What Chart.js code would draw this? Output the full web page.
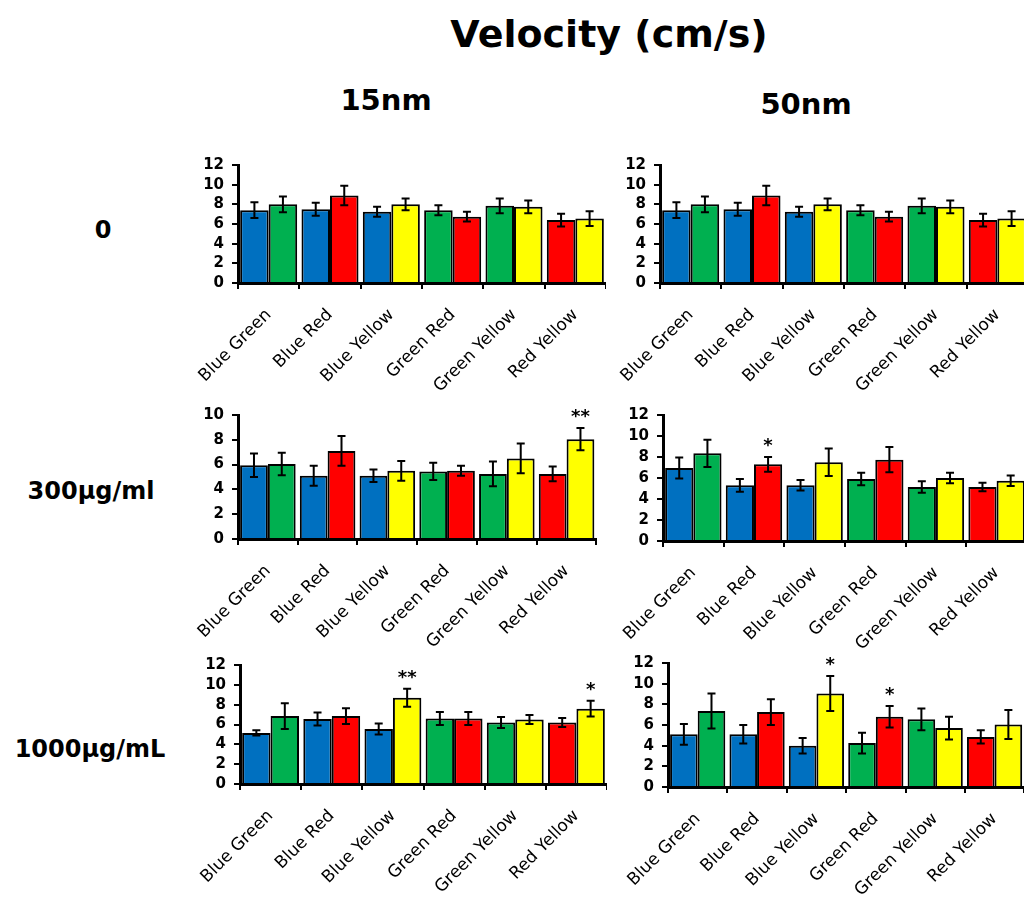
<!DOCTYPE html>
<html>
<head>
<meta charset="utf-8">
<title>Velocity (cm/s)</title>
<script src="https://cdn.jsdelivr.net/npm/chart.js@4/dist/chart.umd.min.js"></script>
<style>
  html, body { margin: 0; padding: 0; background: #fff; overflow: hidden; }
  body { width: 1024px; height: 901px; position: relative; font-family: 'DejaVu Sans', sans-serif; }
  .lbl { position: absolute; transform: translate(-50%, -50%); font-weight: bold; color: #000; white-space: nowrap; }
  canvas { position: absolute; }
</style>
</head>
<body>
<div class="lbl" style="left:609px;top:34px;font-size:38px;">Velocity (cm/s)</div>
<div class="lbl" style="left:386px;top:100px;font-size:29px;">15nm</div>
<div class="lbl" style="left:806px;top:104px;font-size:29px;">50nm</div>
<div class="lbl" style="left:103px;top:230px;font-size:24px;">0</div>
<div class="lbl" style="left:91px;top:491px;font-size:24px;">300μg/ml</div>
<div class="lbl" style="left:90px;top:749px;font-size:24px;">1000μg/mL</div>

<canvas id="c15_0"></canvas>
<canvas id="c50_0"></canvas>
<canvas id="c15_300"></canvas>
<canvas id="c50_300"></canvas>
<canvas id="c15_1000"></canvas>
<canvas id="c50_1000"></canvas>

<script>
const BLUE = '#0070C0', GREEN = '#00B050', RED = '#FF0000', YELLOW = '#FFFF00';

const categories = ['Blue Green', 'Blue Red', 'Blue Yellow', 'Green Red', 'Green Yellow', 'Red Yellow'];
const firstColors = [BLUE, BLUE, BLUE, GREEN, GREEN, RED];
const secondColors = [GREEN, RED, YELLOW, RED, YELLOW, YELLOW];
const yTickStep = 2;

// 15nm, 0
const nm15_0_first = [7.4, 7.5, 7.25, 7.4, 7.85, 6.4];
const nm15_0_second = [8.0, 8.9, 8.0, 6.75, 7.75, 6.55];
const nm15_0_errFirst = [0.8, 0.65, 0.5, 0.5, 0.75, 0.65];
const nm15_0_errSecond = [0.8, 1.0, 0.6, 0.5, 0.65, 0.75];
const nm15_0_stars = ['', '', '', '', '', ''];

// 50nm, 0
const nm50_0_first = [7.4, 7.5, 7.25, 7.4, 7.85, 6.4];
const nm50_0_second = [8.0, 8.9, 8.0, 6.75, 7.75, 6.55];
const nm50_0_errFirst = [0.8, 0.65, 0.5, 0.5, 0.75, 0.65];
const nm50_0_errSecond = [0.8, 1.0, 0.6, 0.5, 0.65, 0.75];
const nm50_0_stars = ['', '', '', '', '', ''];

// 15nm, 300ug/ml
const nm15_300_first = [5.95, 5.1, 5.1, 5.45, 5.25, 5.25];
const nm15_300_second = [6.05, 7.1, 5.5, 5.5, 6.5, 8.05];
const nm15_300_errFirst = [0.95, 0.8, 0.5, 0.7, 1.0, 0.6];
const nm15_300_errSecond = [0.9, 1.2, 0.8, 0.4, 1.2, 0.9];
const nm15_300_stars = ['', '', '', '', '', '**'];

// 50nm, 300ug/ml
const nm50_300_first = [6.95, 5.3, 5.3, 5.9, 5.15, 5.15];
const nm50_300_second = [8.35, 7.3, 7.5, 7.75, 6.0, 5.75];
const nm50_300_errFirst = [1.0, 0.6, 0.5, 0.6, 0.55, 0.4];
const nm50_300_errSecond = [1.3, 0.7, 1.3, 1.2, 0.5, 0.5];
const nm50_300_stars = ['', '*', '', '', '', ''];

// 15nm, 1000ug/mL
const nm15_1000_first = [5.15, 6.55, 5.55, 6.6, 6.2, 6.2];
const nm15_1000_second = [6.85, 6.85, 8.7, 6.6, 6.5, 7.6];
const nm15_1000_errFirst = [0.27, 0.65, 0.55, 0.65, 0.55, 0.45];
const nm15_1000_errSecond = [1.3, 0.8, 0.9, 0.65, 0.45, 0.8];
const nm15_1000_stars = ['', '', '**', '', '', '*'];

// 50nm, 1000ug/mL
const nm50_1000_first = [5.1, 5.1, 4.0, 4.25, 6.55, 4.85];
const nm50_1000_second = [7.35, 7.25, 9.05, 6.8, 5.7, 6.05];
const nm50_1000_errFirst = [1.0, 0.9, 0.75, 1.0, 1.05, 0.65];
const nm50_1000_errSecond = [1.7, 1.25, 1.7, 1.05, 1.1, 1.4];
const nm50_1000_stars = ['', '', '*', '*', '', ''];

// error bars + significance stars
const errorBars = {
  id: 'errorBars',
  afterDatasetsDraw(chart) {
    const ctx = chart.ctx;
    const y = chart.scales.y;
    ctx.save();
    ctx.strokeStyle = '#000';
    ctx.fillStyle = '#000';
    ctx.lineWidth = 2;
    chart.data.datasets.forEach((ds, i) => {
      const meta = chart.getDatasetMeta(i);
      meta.data.forEach((bar, j) => {
        const v = ds.data[j], e = ds.errors[j];
        const top = y.getPixelForValue(v + e);
        const bot = y.getPixelForValue(v - e);
        ctx.beginPath();
        ctx.moveTo(bar.x, top); ctx.lineTo(bar.x, bot);
        ctx.moveTo(bar.x - 4, top); ctx.lineTo(bar.x + 4, top);
        ctx.moveTo(bar.x - 4, bot); ctx.lineTo(bar.x + 4, bot);
        ctx.stroke();
        if (ds.stars && ds.stars[j]) {
          ctx.font = 'bold 18px "DejaVu Sans"';
          ctx.textAlign = 'center';
          ctx.textBaseline = 'alphabetic';
          ctx.fillText(ds.stars[j], bar.x, top - 6);
        }
      });
    });
    ctx.restore();
  }
};

function makePanel(id, box, first, second, errFirst, errSecond, stars, yMax) {
  const padTop = 20, yWidth = 50, padLeft = 20, xHeight = 120;
  const canvas = document.getElementById(id);
  const left = box.left - yWidth - padLeft;
  const top = box.top - padTop;
  canvas.width = box.right - left;
  canvas.height = box.bottom - box.top + padTop + xHeight;
  canvas.style.left = left + 'px';
  canvas.style.top = top + 'px';

  new Chart(canvas, {
    type: 'bar',
    data: {
      labels: categories,
      datasets: [
        { data: first, errors: errFirst, backgroundColor: firstColors, borderColor: '#000', borderWidth: 2,
          categoryPercentage: 0.93, barPercentage: 1.0 },
        { data: second, errors: errSecond, stars: stars, backgroundColor: secondColors, borderColor: '#000', borderWidth: 2,
          categoryPercentage: 0.93, barPercentage: 1.0 }
      ]
    },
    options: {
      responsive: false,
      animation: false,
      layout: { padding: { top: padTop, left: padLeft, right: 0, bottom: 0 } },
      plugins: { legend: { display: false }, tooltip: { enabled: false } },
      scales: {
        x: {
          afterFit(s) { s.height = xHeight; },
          border: { display: true, color: '#000', width: 3 },
          grid: { drawOnChartArea: false, drawTicks: true, tickLength: 6, color: '#000', lineWidth: 2 },
          ticks: { color: '#000', minRotation: 45, maxRotation: 45, padding: 16, autoSkip: false,
                   font: { family: 'DejaVu Sans', size: 17 } }
        },
        y: {
          min: 0, max: yMax,
          afterFit(s) { s.width = yWidth; },
          border: { display: true, color: '#000', width: 3 },
          grid: { drawOnChartArea: false, drawTicks: true, tickLength: 6, color: '#000', lineWidth: 2 },
          ticks: { stepSize: yTickStep, color: '#000', padding: 8, autoSkip: false,
                   font: { family: 'DejaVu Sans', size: 15, weight: 'bold' } }
        }
      }
    },
    plugins: [errorBars]
  });
}

makePanel('c15_0', { left: 238, right: 606, top: 165, bottom: 283 },
  nm15_0_first, nm15_0_second, nm15_0_errFirst, nm15_0_errSecond, nm15_0_stars, 12);
makePanel('c50_0', { left: 660, right: 1028, top: 165, bottom: 283 },
  nm50_0_first, nm50_0_second, nm50_0_errFirst, nm50_0_errSecond, nm50_0_stars, 12);
makePanel('c15_300', { left: 238, right: 597, top: 415, bottom: 539 },
  nm15_300_first, nm15_300_second, nm15_300_errFirst, nm15_300_errSecond, nm15_300_stars, 10);
makePanel('c50_300', { left: 663, right: 1027, top: 415, bottom: 541 },
  nm50_300_first, nm50_300_second, nm50_300_errFirst, nm50_300_errSecond, nm50_300_stars, 12);
makePanel('c15_1000', { left: 240, right: 607, top: 665, bottom: 784 },
  nm15_1000_first, nm15_1000_second, nm15_1000_errFirst, nm15_1000_errSecond, nm15_1000_stars, 12);
makePanel('c50_1000', { left: 668, right: 1025, top: 663, bottom: 787 },
  nm50_1000_first, nm50_1000_second, nm50_1000_errFirst, nm50_1000_errSecond, nm50_1000_stars, 12);
</script>
</body>
</html>
